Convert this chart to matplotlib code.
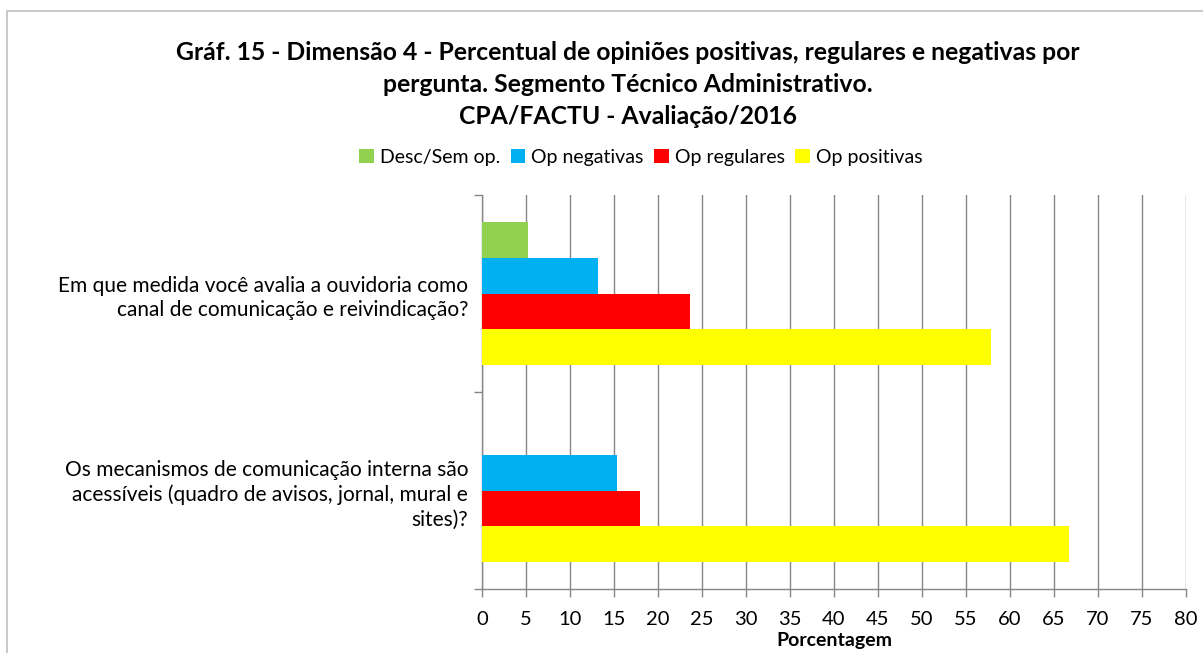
import matplotlib
matplotlib.use("Agg")
import matplotlib.pyplot as plt
from matplotlib.patches import Rectangle
import numpy as np

plt.rcParams['font.family'] = ['Lato', 'DejaVu Sans']

categories = [
    "Em que medida você avalia a ouvidoria como\ncanal de comunicação e reivindicação?",
    "Os mecanismos de comunicação interna são\nacessíveis (quadro de avisos, jornal, mural e\nsites)?",
]
series_names = ["Desc/Sem op.", "Op negativas", "Op regulares", "Op positivas"]
desc = [5.26, 0.0]
negativas = [13.16, 15.38]
regulares = [23.68, 17.95]
positivas = [57.89, 66.67]
colors = ["#92D050", "#00B0F0", "#FF0000", "#FFFF00"]
xticks = list(range(0, 81, 5))

W, H = 1203, 653
fig = plt.figure(figsize=(W / 100, H / 100), dpi=100)
fig.patches.append(Rectangle((7 / W, -1), 3, 2 - 11 / H, transform=fig.transFigure,
                             fill=False, edgecolor="#BFBFBF", linewidth=1.2))

ax = fig.add_axes([482 / W, 1 - 589 / H, (1186 - 482) / W, (589 - 195) / H])

values = [desc, negativas, regulares, positivas]
y = np.arange(len(categories))
bw = 0.181
for i, (vals, c, name) in enumerate(zip(values, colors, series_names)):
    ax.barh(y + (i - 1.5) * bw, vals, height=bw, color=c, label=name, zorder=3)

ax.set_xlim(0, 80)
ax.set_ylim(1.5, -0.5)
ax.set_xticks(xticks)
ax.set_xticklabels([str(t) for t in xticks], fontsize=14.5)
ax.set_yticks(y)
ax.set_yticklabels(categories, fontsize=15, linespacing=1.3)
ax.tick_params(axis='y', length=0, pad=10)
ax.set_yticks([-0.5, 0.5, 1.5], minor=True)
ax.tick_params(axis='y', which='minor', length=6, color="#868686", width=1)
ax.tick_params(axis='x', length=6, color="#868686", width=1, pad=10)
ax.grid(axis='x', color="#868686", linewidth=1, zorder=0)
for s in ['top', 'right']:
    ax.spines[s].set_visible(False)
for s in ['left', 'bottom']:
    ax.spines[s].set_color("#868686")
    ax.spines[s].set_linewidth(1)
ax.set_xlabel("Porcentagem", fontsize=14, fontweight='bold', labelpad=3)

title_fs = 17.8
tx = 628 / W
fig.text(tx, 1 - 52 / H, "Gráf. 15 - Dimensão 4 - Percentual de opiniões positivas, regulares e negativas por",
         ha='center', va='center', fontsize=title_fs, fontweight='bold')
fig.text(tx, 1 - 84 / H, "pergunta. Segmento Técnico Administrativo.",
         ha='center', va='center', fontsize=title_fs, fontweight='bold')
fig.text(tx, 1 - 117 / H, "CPA/FACTU - Avaliação/2016",
         ha='center', va='center', fontsize=title_fs, fontweight='bold')

fig.legend(loc='center', bbox_to_anchor=(641 / W, 1 - 157 / H), ncol=4, frameon=False,
           fontsize=14, handlelength=0.75, handleheight=0.75, handletextpad=0.3,
           columnspacing=0.55)

fig.savefig("out.png", dpi=100)
